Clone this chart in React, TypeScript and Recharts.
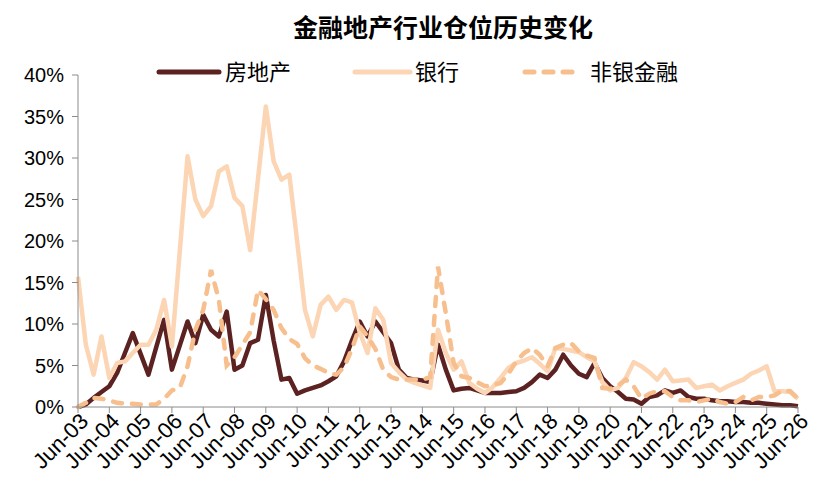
import { LineChart, Line, XAxis, YAxis } from 'recharts';

// quarterly position snapshots, Jun-03 .. Jun-26
const QUARTERS = [
  'Jun-03', 'Sep-03', 'Dec-03', 'Mar-04',
  'Jun-04', 'Sep-04', 'Dec-04', 'Mar-05',
  'Jun-05', 'Sep-05', 'Dec-05', 'Mar-06',
  'Jun-06', 'Sep-06', 'Dec-06', 'Mar-07',
  'Jun-07', 'Sep-07', 'Dec-07', 'Mar-08',
  'Jun-08', 'Sep-08', 'Dec-08', 'Mar-09',
  'Jun-09', 'Sep-09', 'Dec-09', 'Mar-10',
  'Jun-10', 'Sep-10', 'Dec-10', 'Mar-11',
  'Jun-11', 'Sep-11', 'Dec-11', 'Mar-12',
  'Jun-12', 'Sep-12', 'Dec-12', 'Mar-13',
  'Jun-13', 'Sep-13', 'Dec-13', 'Mar-14',
  'Jun-14', 'Sep-14', 'Dec-14', 'Mar-15',
  'Jun-15', 'Sep-15', 'Dec-15', 'Mar-16',
  'Jun-16', 'Sep-16', 'Dec-16', 'Mar-17',
  'Jun-17', 'Sep-17', 'Dec-17', 'Mar-18',
  'Jun-18', 'Sep-18', 'Dec-18', 'Mar-19',
  'Jun-19', 'Sep-19', 'Dec-19', 'Mar-20',
  'Jun-20', 'Sep-20', 'Dec-20', 'Mar-21',
  'Jun-21', 'Sep-21', 'Dec-21', 'Mar-22',
  'Jun-22', 'Sep-22', 'Dec-22', 'Mar-23',
  'Jun-23', 'Sep-23', 'Dec-23', 'Mar-24',
  'Jun-24', 'Sep-24', 'Dec-24', 'Mar-25',
  'Jun-25', 'Sep-25', 'Dec-25', 'Mar-26',
  'Jun-26',
];

const X_TICKS = [
  'Jun-03', 'Jun-04', 'Jun-05', 'Jun-06', 'Jun-07', 'Jun-08', 'Jun-09', 'Jun-10',
  'Jun-11', 'Jun-12', 'Jun-13', 'Jun-14', 'Jun-15', 'Jun-16', 'Jun-17', 'Jun-18',
  'Jun-19', 'Jun-20', 'Jun-21', 'Jun-22', 'Jun-23', 'Jun-24', 'Jun-25', 'Jun-26',
];

const Y_TICKS = [0, 5, 10, 15, 20, 25, 30, 35, 40];

// 房地产 (%)
const PROPERTY = [
  0, 0.3, 1.1, 1.8, 2.5, 4.1, 6.5, 8.9, 6.4, 3.9, 7.2, 10.5,
  4.5, 7.4, 10.3, 7.7, 11.1, 9.3, 8.5, 11.5, 4.5, 5.0, 7.7, 8.1,
  13.5, 8.0, 3.3, 3.5, 1.6, 2.0, 2.3, 2.6, 3.1, 3.7, 5.5, 8.0,
  10.3, 8.5, 10.3, 9.0, 7.7, 4.5, 3.5, 3.3, 3.2, 3.0, 7.5, 4.5,
  2.0, 2.2, 2.3, 2.0, 1.7, 1.7, 1.7, 1.8, 1.9, 2.3, 3.0, 3.9,
  3.5, 4.5, 6.3, 5.0, 4.0, 3.6, 5.3, 3.5, 2.5, 1.8, 1.0, 0.9,
  0.4, 1.2, 1.4, 2.0, 1.7, 2.0, 1.2, 1.0, 1.0, 0.8, 0.7, 0.7,
  0.6, 0.6, 0.5, 0.5, 0.4, 0.3, 0.2, 0.2, 0.1,
];

// 银行 (%)
const BANKS = [
  15.7, 7.5, 3.9, 8.5, 3.5, 5.3, 5.5, 6.5, 7.5, 7.5, 9.3, 12.9,
  7.3, 18.7, 30.2, 25.0, 23.0, 24.2, 28.4, 29.0, 25.2, 24.2, 18.9, 27.5,
  36.2, 29.6, 27.4, 28.0, 20.0, 11.7, 8.5, 12.3, 13.3, 11.7, 12.9, 12.6,
  9.0, 6.5, 11.9, 10.5, 5.3, 4.2, 3.3, 2.9, 2.6, 2.3, 9.3, 6.5,
  4.5, 5.5, 2.9, 2.2, 1.7, 2.4, 3.5, 4.7, 5.3, 5.6, 6.0, 5.2,
  4.3, 7.1, 7.0, 6.8, 6.6, 6.0, 5.5, 3.0, 2.0, 2.3, 3.5, 5.4,
  4.9, 4.2, 3.3, 4.5, 3.1, 3.2, 3.3, 2.3, 2.5, 2.7, 2.0, 2.5,
  2.9, 3.3, 4.0, 4.4, 4.9, 1.9, 1.9, 1.8, 1.0,
];

// 非银金融 (%)
const NON_BANK = [
  0, 0.5, 1.1, 1.0, 0.8, 0.5, 0.4, 0.4, 0.3, 0.3, 0.3, 1.0,
  2.0, 2.3, 4.9, 9.3, 11.7, 16.5, 12.9, 5.0, 6.0, 7.5, 9.0, 14.1,
  13.0, 11.7, 9.5, 8.2, 7.6, 5.9, 5.0, 4.6, 4.1, 3.9, 4.8, 7.0,
  9.7, 8.5, 7.0, 4.5, 3.6, 3.3, 3.3, 3.3, 3.3, 3.6, 16.9, 11.3,
  5.3, 3.7, 3.5, 3.0, 2.5, 2.6, 2.9, 4.0, 5.5, 6.5, 7.1, 6.3,
  4.9, 7.1, 7.5, 7.7, 6.7, 6.2, 5.9, 2.3, 2.2, 2.6, 3.3, 2.5,
  1.0, 1.6, 1.9, 1.9, 1.2, 0.8, 0.8, 0.6, 0.8, 1.0, 0.6, 0.4,
  0.6, 1.2, 0.8, 1.2, 1.2, 1.4, 2.0, 1.9, 1.0,
];

const DARK = '#5c2222';
const LIGHT = '#fcd5b5';
const PEACH = '#f7bf8e';
const AXIS = '#8c8c8c';
const FONT = '"Liberation Sans", Arial, sans-serif';
const CJK = '"Noto Sans CJK SC", sans-serif';

const data = QUARTERS.map((q, i) => ({
  q,
  property: PROPERTY[i],
  banks: BANKS[i],
  nonBank: NON_BANK[i],
}));

function XTick({ x, y, payload }: any) {
  const ax = x + 6;
  const ay = y + 2;
  return (
    <text
      x={ax}
      y={ay}
      dy={8}
      transform={`rotate(-45 ${ax} ${ay})`}
      textAnchor="end"
      fontSize={22}
      fontFamily={FONT}
      fill="#000"
    >
      {payload.value}
    </text>
  );
}

function LegendRow() {
  return (
    <svg
      width={829}
      height={503}
      style={{ position: 'absolute', left: 0, top: 0, pointerEvents: 'none' }}
    >
      <text
        x={443}
        y={37}
        textAnchor="middle"
        fontSize={25}
        fontWeight="bold"
        fontFamily={CJK}
        fill="#000"
      >
        金融地产行业仓位历史变化
      </text>
      <line x1={159} y1={72} x2={219} y2={72} stroke={DARK} strokeWidth={5} strokeLinecap="round" />
      <text x={225} y={80} fontSize={22} fontFamily={CJK} fill="#000">房地产</text>
      <line x1={355} y1={72} x2={410} y2={72} stroke={LIGHT} strokeWidth={5} strokeLinecap="round" />
      <text x={415} y={80} fontSize={22} fontFamily={CJK} fill="#000">银行</text>
      <line
        x1={525}
        y1={72}
        x2={580}
        y2={72}
        stroke={PEACH}
        strokeWidth={5}
        strokeLinecap="round"
        strokeDasharray="9 10"
      />
      <text x={590} y={80} fontSize={22} fontFamily={CJK} fill="#000">非银金融</text>
    </svg>
  );
}

export default function App() {
  return (
    <div style={{ position: 'absolute', left: 0, top: 0, width: 829, height: 503, background: '#fff' }}>
      <LineChart
        width={829}
        height={503}
        data={data}
        margin={{ top: 75, right: 31, left: 0, bottom: 0 }}
      >
        <XAxis
          dataKey="q"
          ticks={X_TICKS}
          interval={0}
          height={96}
          stroke={AXIS}
          tickSize={6}
          tick={<XTick />}
        />
        <YAxis
          domain={[0, 40]}
          ticks={Y_TICKS}
          width={78}
          stroke={AXIS}
          tickSize={6}
          tickMargin={8}
          tickFormatter={(v: number) => `${v}%`}
          tick={{ fill: '#000', fontSize: 20, fontFamily: FONT }}
        />
        <Line
          dataKey="property"
          stroke={DARK}
          strokeWidth={4.5}
          dot={false}
          strokeLinejoin="round"
          isAnimationActive={false}
        />
        <Line
          dataKey="banks"
          stroke={LIGHT}
          strokeWidth={4.5}
          dot={false}
          strokeLinejoin="round"
          isAnimationActive={false}
        />
        <Line
          dataKey="nonBank"
          stroke={PEACH}
          strokeWidth={4.5}
          strokeDasharray="9 10"
          strokeLinecap="round"
          dot={false}
          isAnimationActive={false}
        />
      </LineChart>
      <LegendRow />
    </div>
  );
}
